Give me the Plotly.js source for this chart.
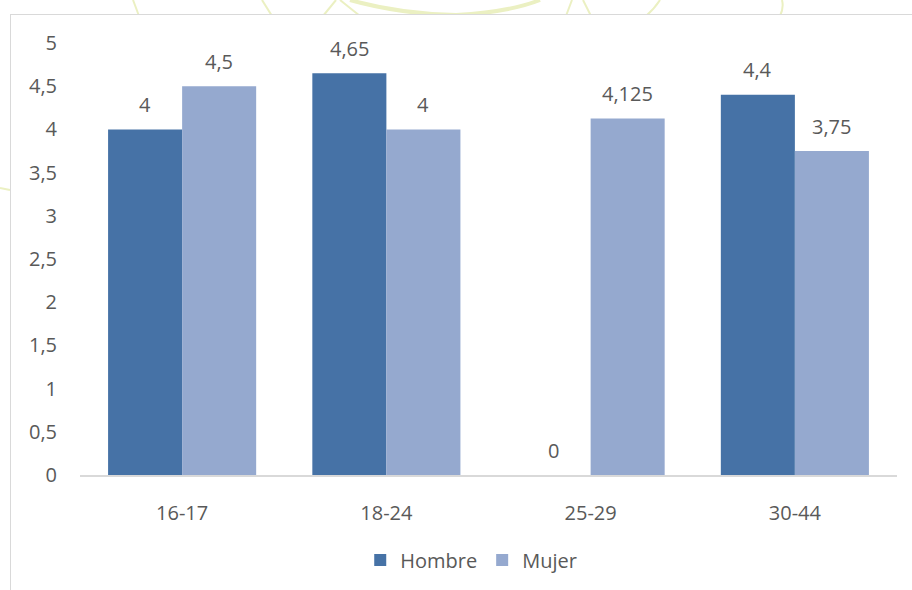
<!DOCTYPE html>
<html>
<head>
<meta charset="utf-8">
<script src="https://cdn.plot.ly/plotly-3.0.1.min.js"></script>
<style>
  html, body { margin:0; padding:0; background:#ffffff; }
  #wrap { position:relative; width:912px; height:590px; overflow:hidden; }
  #wm { position:absolute; left:0; top:0; }
  #box { position:absolute; left:10px; top:14px; width:1000px; height:1000px;
         border:1.5px solid #d9d9d9; background:#ffffff; }
  #chart { position:absolute; left:0; top:0; width:912px; height:590px; }
</style>
</head>
<body>
<div id="wrap">
  <svg id="wm" width="912" height="590" viewBox="0 0 912 590">
    <g fill="none" stroke="#ebf0c2" stroke-width="2">
      <path d="M133,0 Q136,8 139,16"/>
      <path d="M262,0 L272,16"/>
      <path d="M336,0 L323,16"/>
      <path d="M340,0 L360,16"/>
      <path d="M572,0 L566,16"/>
      <path d="M583,0 L591,16"/>
      <path d="M660,0 Q655,8 646,16"/>
      <path d="M782,0 Q784,8 780,16"/>
      <path d="M0,188 L10,190"/>
    </g>
    <g fill="none" stroke="#ebf0c2" stroke-width="4">
      <path d="M350,0 Q400,14 456,15"/>
      <path d="M456,15 Q510,12 540,0"/>
    </g>
  </svg>
  <div id="box"></div>
  <div id="chart"></div>
</div>
<script>
const categories = ["16-17", "18-24", "25-29", "30-44"];
const hombre = [4, 4.65, 0, 4.4];
const mujer = [4.5, 4, 4.125, 3.75];
const seriesNames = ["Hombre", "Mujer"];
const yTicks = [0, 0.5, 1, 1.5, 2, 2.5, 3, 3.5, 4, 4.5, 5];

const fmt = v => String(v).replace(".", ",");
const FONT = "'Open Sans', 'Noto Sans', sans-serif";
const GREY = "#595959";
const FS = 20;

const traces = [
  { type: "bar", name: seriesNames[0], x: categories, y: hombre,
    marker: { color: "#4672a6" }, hoverinfo: "none" },
  { type: "bar", name: seriesNames[1], x: categories, y: mujer,
    marker: { color: "#95a9cf" }, hoverinfo: "none" }
];

const annotations = [];
[[hombre, -37], [mujer, 37]].forEach(([vals, dx]) => {
  vals.forEach((v, i) => {
    annotations.push({
      x: categories[i], y: v, xref: "x", yref: "y",
      text: fmt(v), showarrow: false,
      xshift: dx, yshift: 25, yanchor: "middle", xanchor: "center",
      font: { family: FONT, size: FS, color: GREY }
    });
  });
});

const layout = {
  width: 912, height: 590,
  margin: { l: 80, r: 15, t: 43, b: 114 },
  paper_bgcolor: "rgba(0,0,0,0)",
  plot_bgcolor: "rgba(0,0,0,0)",
  barmode: "group",
  bargap: 0.275,
  bargroupgap: 0,
  font: { family: FONT, size: FS, color: GREY },
  xaxis: {
    type: "category",
    showgrid: false, zeroline: false,
    showline: true, linecolor: "#d9d9d9", linewidth: 1.5,
    ticks: "", ticklabelstandoff: 19,
    tickfont: { family: FONT, size: FS, color: GREY }
  },
  yaxis: {
    range: [0, 5],
    tickvals: yTicks, ticktext: yTicks.map(fmt),
    showgrid: false, zeroline: false, showline: false,
    ticks: "", ticklabelstandoff: 22,
    tickfont: { family: FONT, size: FS, color: GREY }
  },
  showlegend: true,
  legend: {
    orientation: "h", x: 0.343, xanchor: "left",
    y: -0.194, yanchor: "middle",
    font: { family: FONT, size: FS, color: GREY },
    bgcolor: "rgba(0,0,0,0)"
  },
  annotations: annotations
};

Plotly.newPlot("chart", traces, layout, { displayModeBar: false, staticPlot: true });
</script>
</body>
</html>
